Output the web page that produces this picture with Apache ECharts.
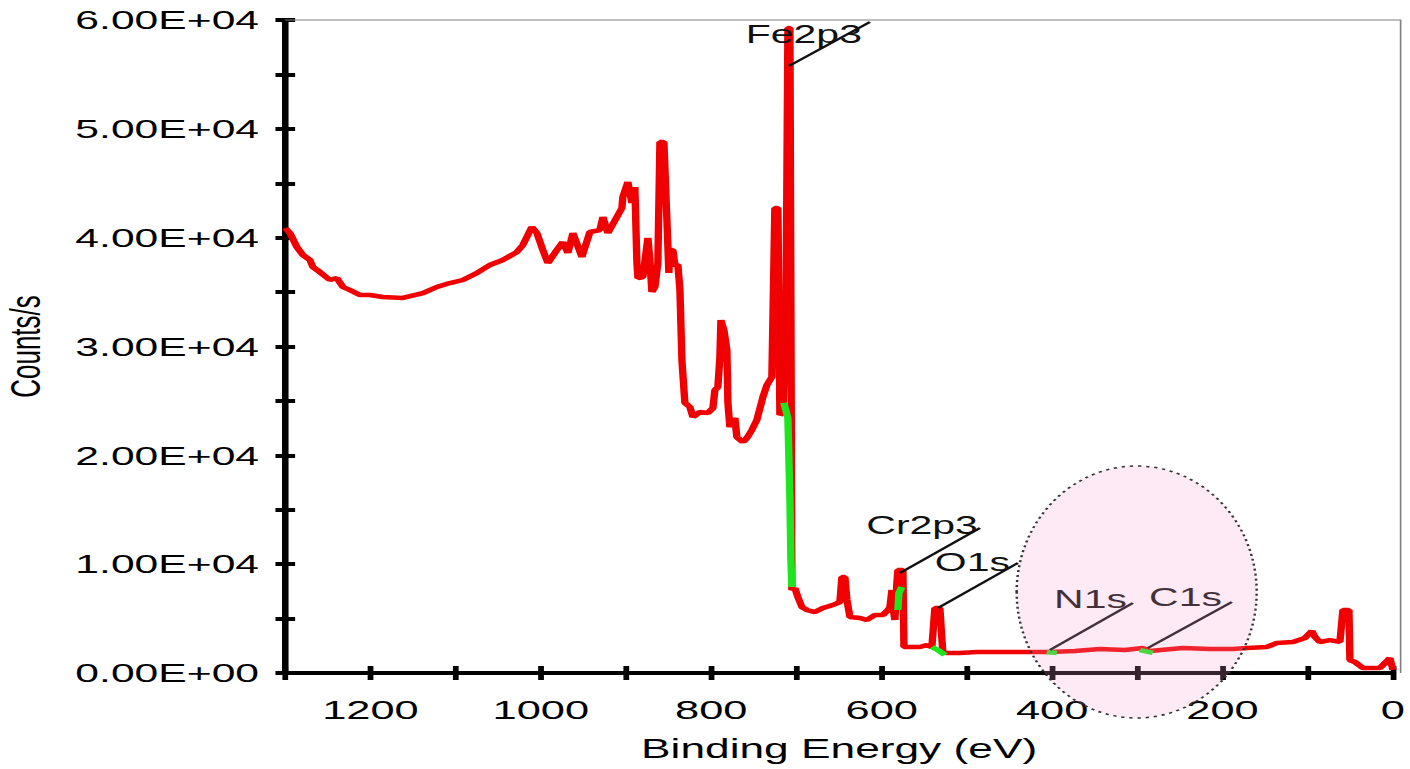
<!DOCTYPE html>
<html>
<head>
<meta charset="utf-8">
<title>XPS survey</title>
<script src="https://cdn.jsdelivr.net/npm/echarts@6/dist/echarts.min.js"></script>
<style>
  html, body { margin: 0; padding: 0; background: #fff; overflow: hidden; }
  /* the picture is stretched sideways, so draw it narrow and widen it */
  #chart { width: 860px; height: 769px; transform: scaleX(1.6395); transform-origin: 0 0; }
</style>
</head>
<body>
<div id="chart"></div>
<script>
// survey spectrum, binding energy (eV) and counts/s
var energy = [
  1300.0, 1294.6, 1286.4, 1279.3, 1271.1, 1267.6, 1259.4, 1247.7, 1239.4, 1232.4,
  1224.2, 1212.4, 1200.7, 1185.5, 1162.0, 1138.5, 1122.1, 1106.8, 1091.6, 1075.1,
  1059.9, 1044.6, 1028.2, 1021.1, 1010.6, 1004.7, 997.7, 991.8, 981.2, 974.2,
  968.3, 962.4, 951.9, 942.5, 930.8, 927.2, 921.4, 910.8, 904.9, 903.8,
  897.9, 893.2, 889.7, 887.3, 886.1, 880.3, 874.4, 872.1, 869.7, 866.2,
  862.7, 860.3, 855.6, 852.1, 849.8, 848.6, 845.1, 842.7, 839.2, 836.8,
  834.5, 831.0, 825.1, 821.6, 813.4, 804.0, 798.1, 795.8, 792.3, 789.9,
  788.7, 785.2, 781.7, 780.5, 778.2, 772.3, 770.0, 762.9, 758.2, 752.3,
  746.5, 739.4, 734.7, 728.9, 727.7, 725.4, 721.8, 719.5, 716.0, 712.4,
  710.1, 707.7, 705.4, 701.9, 698.4, 693.7, 687.8, 678.4, 669.0, 657.3,
  649.1, 646.7, 643.2, 640.8, 637.3, 625.6, 617.4, 608.0, 598.6, 592.7,
  590.4, 588.0, 586.9, 584.5, 582.2, 581.0, 575.1, 573.9, 566.9, 555.2,
  546.9, 541.1, 537.6, 531.7, 529.3, 528.2, 523.5, 508.2, 488.3, 469.5,
  449.5, 429.6, 402.6, 373.2, 343.9, 314.6, 293.4, 285.2, 246.5, 214.8,
  187.8, 171.4, 147.9, 136.1, 117.4, 103.3, 95.1, 91.5, 85.7, 73.9,
  62.2, 58.7, 51.6, 50.5, 44.6, 35.2, 15.3, 7.0, 3.5, 0.0
];
var counts = [
  40890, 40430, 39140, 38410, 37950, 37300, 36840, 36110, 36290, 35470,
  35190, 34730, 34730, 34550, 34460, 34910, 35470, 35830, 36110, 36750,
  37490, 37950, 38680, 39330, 40980, 40430, 38870, 37670, 38870, 39600,
  38590, 40430, 38220, 40520, 40700, 41900, 40430, 41900, 42720, 43730,
  45110, 43180, 44650, 37670, 36290, 36380, 39970, 37950, 35010, 35470,
  37670, 48790, 48790, 41620, 36750, 38870, 38870, 37490, 37490, 35190,
  28760, 24810, 24440, 23520, 23980, 23890, 24350, 26000, 26280, 29030,
  32430, 31510, 29680, 24810, 22600, 23430, 21680, 21220, 21590, 22330,
  23250, 25360, 26460, 27200, 32430, 42720, 42720, 23710, 23890, 32430,
  59260, 59260, 7630, 7810, 6980, 6060, 5790, 5600, 5970, 6250,
  6520, 8820, 8820, 6710, 5150, 5050, 4870, 5330, 5330, 5790,
  6060, 7630, 6060, 4870, 8270, 9460, 9460, 2390, 2390, 2390,
  2570, 2390, 5970, 5970, 3030, 1930, 1840, 1840, 1930, 1930,
  1930, 1930, 1930, 2020, 2210, 2110, 2300, 2020, 2300, 2210,
  2210, 2300, 2390, 2760, 2850, 3220, 3860, 3310, 2850, 3030,
  2850, 5790, 5790, 1190, 1010, 460, 460, 1100, 1380, 280
];

// green fitted regions, one list per peak
var fitEnergy = [
  [714.8, 710.1, 707.7, 706.6, 705.4],
  [581.0, 579.8, 576.3],
  [541.1, 534.0, 525.8],
  [406.1, 394.4],
  [297.0, 281.7]
];
var fitCounts = [
  [24810, 23430, 15900, 10380, 7900],
  [5790, 7350, 7900],
  [2390, 2110, 1650],
  [1930, 1840],
  [2110, 1840]
];

// peak labels with their leader lines
var peakNames = ['Fe2p3', 'Cr2p3', 'O1s', 'N1s', 'C1s'];
var leaderFrom = [[708.9, 55770], [578.6, 9190], [534.0, 5970], [402.6, 2110], [287.6, 2300]];
var leaderTo = [[613.8, 59810], [484.7, 13320], [440.1, 10110], [305.2, 6430], [189.0, 6520]];
var nameAt = [[623.2, 58710], [487.1, 13600], [449.5, 10200], [312.2, 6800], [200.7, 6980]];

var xTickLabels = ['0', '200', '400', '600', '800', '1000', '1200'];
var yTickLabels = ['0.00E+00', '1.00E+04', '2.00E+04', '3.00E+04', '4.00E+04', '5.00E+04', '6.00E+04'];

var FONT = '"Liberation Sans", Arial, sans-serif';

var chart = echarts.init(document.getElementById('chart'), null, { renderer: 'svg' });

var series = [{
  type: 'line',
  data: energy.map(function (e, i) { return [e, counts[i]]; }),
  symbol: 'none',
  animation: false,
  z: 2,
  lineStyle: { color: '#f00000', width: 4.5 },
  markLine: {
    silent: true,
    animation: false,
    symbol: ['none', 'none'],
    label: { show: false },
    lineStyle: { color: '#111', width: 2, type: 'solid' },
    data: leaderFrom.map(function (p, i) { return [{ coord: p }, { coord: leaderTo[i] }]; })
  },
  markPoint: {
    silent: true,
    animation: false,
    symbol: 'circle',
    symbolSize: 0,
    label: {
      show: true, position: 'left', distance: 0, formatter: '{b}',
      color: '#111', fontSize: 25, fontFamily: FONT
    },
    data: nameAt.map(function (p, i) { return { name: peakNames[i], coord: p }; })
  }
}];

fitEnergy.forEach(function (es, k) {
  series.push({
    type: 'line',
    data: es.map(function (e, i) { return [e, fitCounts[k][i]]; }),
    symbol: 'none',
    animation: false,
    z: 3,
    lineStyle: { color: '#1ee61e', width: 4.5 }
  });
});

var option = {
  animation: false,
  grid: { left: 174, right: 10.4, top: 20, bottom: 96, outerBoundsMode: 'none' },
  xAxis: [{
    type: 'value', min: 0, max: 1300, interval: 100, inverse: true, position: 'bottom',
    axisLine: { show: true, onZero: false, lineStyle: { color: '#000', width: 4 } },
    axisTick: { show: true, length: 7, lineStyle: { color: '#000', width: 3.5 } },
    splitLine: { show: false },
    axisLabel: {
      color: '#000', fontSize: 26.5, fontFamily: FONT, margin: 23,
      formatter: function (v) { return v % 200 === 0 ? xTickLabels[v / 200] : ''; }
    },
    name: 'Binding Energy (eV)', nameLocation: 'middle', nameGap: 62,
    nameTextStyle: { color: '#000', fontSize: 27, fontFamily: FONT }
  }, {
    type: 'value', min: 0, max: 1300, interval: 100, inverse: true, position: 'bottom',
    axisLine: { show: false, onZero: false },
    axisTick: { show: true, inside: true, length: 7, lineStyle: { color: '#000', width: 3.5 } },
    axisLabel: { show: false },
    splitLine: { show: false }
  }],
  yAxis: [{
    type: 'value', min: 0, max: 60000, interval: 5000, position: 'left',
    axisLine: { show: true, onZero: false, lineStyle: { color: '#000', width: 4 } },
    axisTick: { show: true, length: 6, lineStyle: { color: '#000', width: 4 } },
    splitLine: { show: false },
    axisLabel: {
      color: '#000', fontSize: 26, fontFamily: FONT, margin: 16, padding: [7, 0, 0, 0],
      formatter: function (v) { return v % 10000 === 0 ? yTickLabels[v / 10000] : ''; }
    },
    name: 'Counts/s', nameLocation: 'middle', nameRotate: 90, nameGap: 146,
    nameTextStyle: { color: '#000', fontSize: 26, fontFamily: FONT }
  }, {
    type: 'value', min: 0, max: 60000, interval: 5000, position: 'left', offset: 0,
    axisLine: { show: false, onZero: false },
    axisTick: { show: true, inside: true, length: 6, lineStyle: { color: '#000', width: 4 } },
    axisLabel: { show: false },
    splitLine: { show: false }
  }],
  graphic: [{
    // thin frame on top and right
    type: 'polyline', silent: true, z: 1,
    shape: { points: [[174, 20], [854.3, 20], [854.3, 673]] },
    style: { stroke: '#808080', lineWidth: 1, fill: null }
  }, {
    // highlighted region round N1s and C1s
    type: 'ellipse', silent: true, z: 100,
    shape: { cx: 693.3, cy: 592, rx: 73.2, ry: 126 },
    style: { fill: 'rgba(245,160,205,0.22)', stroke: '#333', lineWidth: 1.5, lineDash: [2, 3] }
  }],
  series: series
};

chart.setOption(option);
</script>
</body>
</html>
